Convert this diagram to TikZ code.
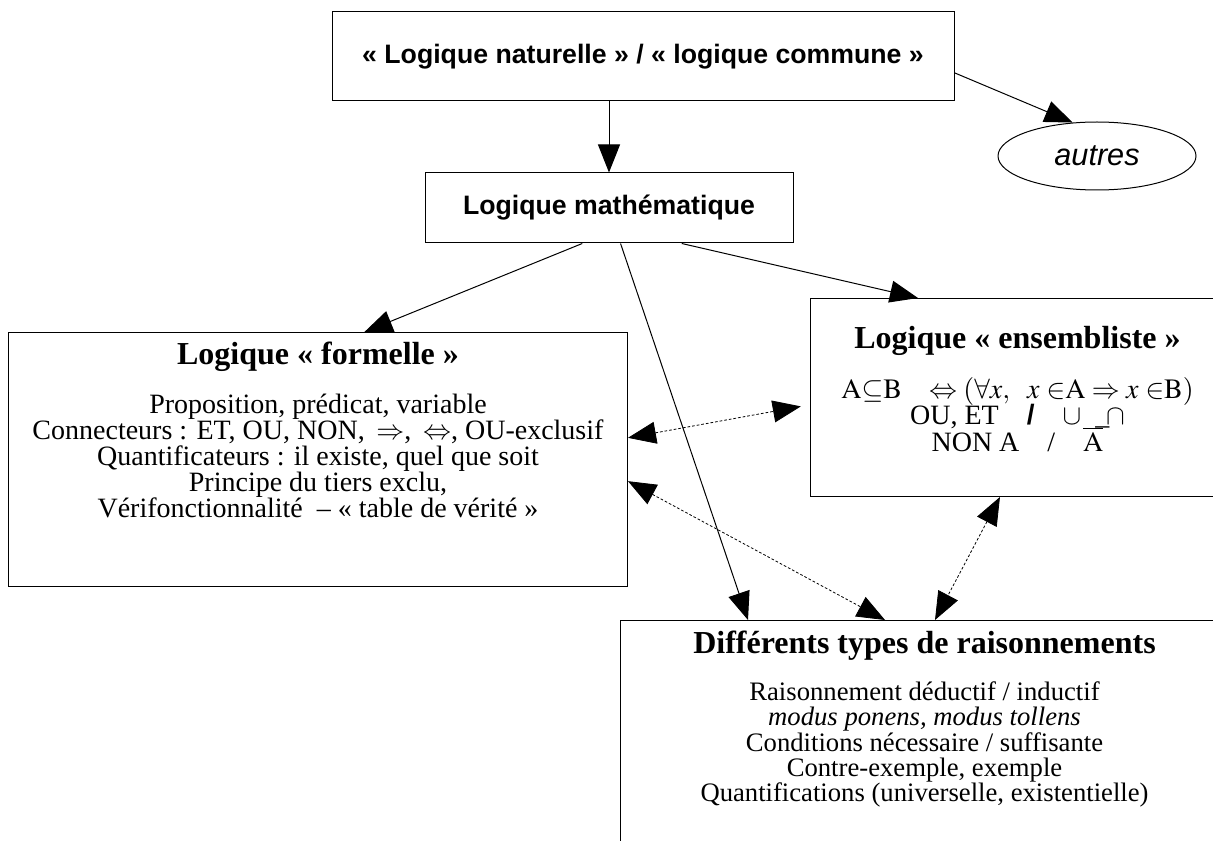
\documentclass[tikz,border=0pt]{standalone}
\usepackage{mathptmx}
\usepackage{fontspec}
\setmainfont{Liberation Serif}
\setsansfont{Liberation Sans}
\usetikzlibrary{arrows.meta, shapes.geometric, calc}

% box content with text set from the top
\newcommand{\boxbody}[3]{\parbox[c][#2][t]{#1}{\centering\lineskiplimit=-20pt #3}}
\newcommand{\boxhead}[1]{{\fontsize{24}{26}\selectfont\bfseries #1\par}}

\begin{document}
\begin{tikzpicture}[
    x=0.75pt, y=-0.75pt,
    line width=0.75pt,
    >={Triangle[length=21pt, width=16.5pt]},
    sansbox/.style={
      rectangle,
      draw,
      inner sep=0pt,
      font=\sffamily\bfseries\fontsize{20}{24}\selectfont
    },
    textbox/.style={
      rectangle,
      draw,
      inner sep=0pt,
      anchor=north west,
      font=\fontsize{20}{19}\selectfont
    },
    link/.style={dash pattern=on 2pt off 1.5pt, line width=0.6pt}
  ]
  \clip (0,0) rectangle (1213,841);

  \node[sansbox, minimum width=466.5pt, minimum height=66.75pt] (nat) at (643,56.5)
    {«~Logique naturelle~» / «~logique commune~»};
  \node[draw, ellipse, inner sep=0pt, minimum width=148.5pt, minimum height=51pt,
    font=\sffamily\itshape\fontsize{23}{26}\selectfont] (autres) at (1097,156) {autres};
  \node[sansbox, minimum width=276pt, minimum height=52.5pt] (math) at (609,208)
    {Logique mathématique};

  \node[textbox] (formelle) at (8,332) {\boxbody{464.25pt}{190.5pt}{%
    \vspace*{7pt}
    \boxhead{Logique «~formelle~»}
    \vspace{17pt}
    \fontsize{21}{19.5}\selectfont
    Proposition, prédicat, variable\par
    Connecteurs : ET, OU, NON, \,$\Rightarrow$, \,$\Leftrightarrow$, OU-exclusif\par
    Quantificateurs : il existe, quel que soit\par
    Principe du tiers exclu,\par
    Vérifonctionnalité~ -- «~table de vérité~»\par}};

  \node[textbox] (ens) at (810,298) {\boxbody{310.5pt}{148.5pt}{%
    \vspace*{21pt}
    \boxhead{Logique «~ensembliste~»}
    \vspace{17pt}
    \fontsize{21}{20}\selectfont
    $\mathrm{A}{\subseteq}\mathrm{B}\ \ \ \Leftrightarrow(\forall x,\ \ x\ {\in}\mathrm{A}\Rightarrow x\ {\in}\mathrm{B})$\par
    OU, ET\quad{\sffamily\bfseries /}\quad$\cup$\ \ \_$\!\cap$\par
    NON A\quad/\quad$\overline{\mathrm{A}}$\par}};

  \node[textbox] (rais) at (620,620) {\boxbody{456pt}{225pt}{%
    \vspace*{8pt}
    \boxhead{Différents types de raisonnements}
    \vspace{16pt}
    Raisonnement déductif / inductif\par
    \textit{modus ponens, modus tollens}\par
    Conditions nécessaire / suffisante\par
    Contre-exemple, exemple\par
    Quantifications (universelle, existentielle)\par}};

  \draw[->] (math.north |- nat.south) -- (math.north);
  \draw[->] (nat.-3.4) -- (autres.126);
  \draw[->] (math.233.4) -- (formelle.70.7);
  \draw[->] (math.-26.2) -- (ens.135.9);
  \draw[->] (math.-72.6) -- ($(rais.north west)+(128,0)$);

  \draw[link, <->, shorten >=7pt] (formelle.4.8) -- (ens.182.2);
  \draw[link, <->] (formelle.-4.2) -- ($(rais.north west)+(265,0)$);
  \draw[link, <->] (ens.260.4) -- ($(rais.north west)+(315,0)$);
\end{tikzpicture}
\end{document}
